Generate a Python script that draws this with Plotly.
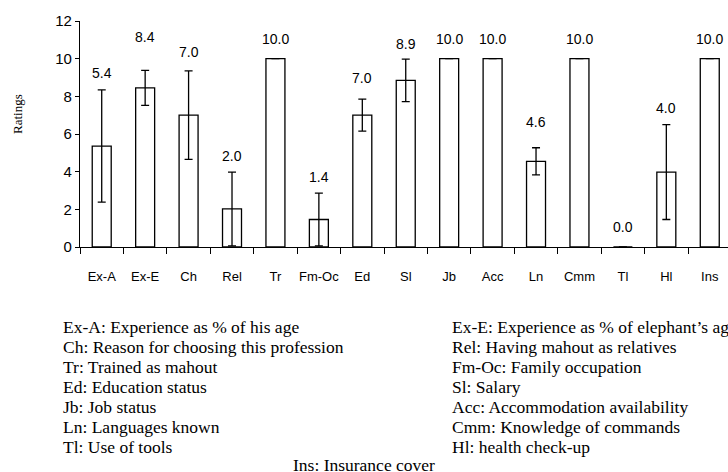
import plotly.graph_objects as go

categories = ["Ex-A", "Ex-E", "Ch", "Rel", "Tr", "Fm-Oc", "Ed", "Sl", "Jb", "Acc", "Ln", "Cmm", "Tl", "Hl", "Ins"]
ratings = [5.36, 8.45, 7.0, 2.02, 10.0, 1.46, 7.0, 8.85, 10.0, 10.0, 4.55, 10.0, 0.0, 3.98, 10.0]
errors = [2.98, 0.93, 2.35, 1.96, 0.0, 1.40, 0.85, 1.13, 0.0, 0.0, 0.72, 0.0, 0.0, 2.52, 0.0]
value_labels = ["5.4", "8.4", "7.0", "2.0", "10.0", "1.4", "7.0", "8.9", "10.0", "10.0", "4.6", "10.0", "0.0", "4.0", "10.0"]

legend_left = [
    "Ex-A: Experience as % of his age",
    "Ch: Reason for choosing this profession",
    "Tr: Trained as mahout",
    "Ed: Education status",
    "Jb: Job status",
    "Ln: Languages known",
    "Tl: Use of tools",
]
legend_right = [
    "Ex-E: Experience as % of elephant\u2019s age",
    "Rel: Having mahout as relatives",
    "Fm-Oc: Family occupation",
    "Sl: Salary",
    "Acc: Accommodation availability",
    "Cmm: Knowledge of commands",
    "Hl: health check-up",
]
legend_bottom = "Ins: Insurance cover"

# styling / layout (pixels)
W, H = 728, 472
ML, MT, MB, MR = 80, 21, 225, 0
PW, PH = W - ML - MR, H - MT - MB
label_shift = [17, 33, 19, 16, 20, 16, 21, 15, 20, 20, 26, 20, 20, 17, 20]

SANS = "Liberation Sans, Arial, sans-serif"
SERIF = "Liberation Serif, Times New Roman, serif"


def px_x(px):
    return (px - ML) / PW


def px_y(py):
    return (H - MB - py) / PH


fig = go.Figure()
fig.add_trace(go.Bar(
    x=categories,
    y=ratings,
    width=0.437,
    marker=dict(color="white", line=dict(color="black", width=1.3)),
    error_y=dict(type="data", array=errors, visible=True, color="black", thickness=1.3, width=4),
    showlegend=False,
    cliponaxis=False,
    hoverinfo="skip",
))

annotations = []
for cat, v, e, lab, sh in zip(categories, ratings, errors, value_labels, label_shift):
    annotations.append(dict(
        x=cat, y=v + e, xref="x", yref="y", text=lab, showarrow=False,
        yanchor="middle", yshift=sh, font=dict(family=SANS, size=14, color="black"),
    ))

for i, t in enumerate(legend_left):
    annotations.append(dict(
        x=px_x(61), y=px_y(327 + 20 * i), xref="paper", yref="paper", text=t,
        showarrow=False, xanchor="left", yanchor="middle",
        font=dict(family=SERIF, size=17.5, color="black"),
    ))
for i, t in enumerate(legend_right):
    annotations.append(dict(
        x=px_x(450), y=px_y(327 + 20 * i), xref="paper", yref="paper", text=t,
        showarrow=False, xanchor="left", yanchor="middle",
        font=dict(family=SERIF, size=17.5, color="black"),
    ))
annotations.append(dict(
    x=px_x(364), y=px_y(465), xref="paper", yref="paper", text=legend_bottom,
    showarrow=False, xanchor="center", yanchor="middle",
    font=dict(family=SERIF, size=17.5, color="black"),
))
annotations.append(dict(
    x=px_x(17), y=px_y(114), xref="paper", yref="paper", text="Ratings",
    showarrow=False, xanchor="center", yanchor="middle", textangle=-90,
    font=dict(family=SERIF, size=13, color="black"),
))

fig.update_layout(
    width=W, height=H,
    margin=dict(l=ML, r=MR, t=MT, b=MB, pad=0, autoexpand=False),
    paper_bgcolor="white", plot_bgcolor="white",
    annotations=annotations,
    xaxis=dict(
        type="category", range=[-0.5, 14.42], showline=True, linecolor="black", linewidth=1.3,
        ticks="outside", tickson="boundaries", ticklen=6, tickwidth=1.2, tickcolor="black",
        showgrid=False, zeroline=False, automargin=False, tickangle=0, ticklabelstandoff=17,
        tickfont=dict(family=SANS, size=13, color="black"),
    ),
    yaxis=dict(
        range=[0, 12], tickvals=[0, 2, 4, 6, 8, 10, 12], showline=True, linecolor="black", linewidth=1.3,
        ticks="outside", ticklen=4, tickwidth=1.2, tickcolor="black",
        showgrid=False, zeroline=False, automargin=False,
        tickfont=dict(family=SANS, size=15, color="black"),
    ),
)
fig.write_html(
    "out.html",
    config={"displayModeBar": False},
    post_script="document.body.style.margin='0';document.body.style.overflow='hidden';",
)
